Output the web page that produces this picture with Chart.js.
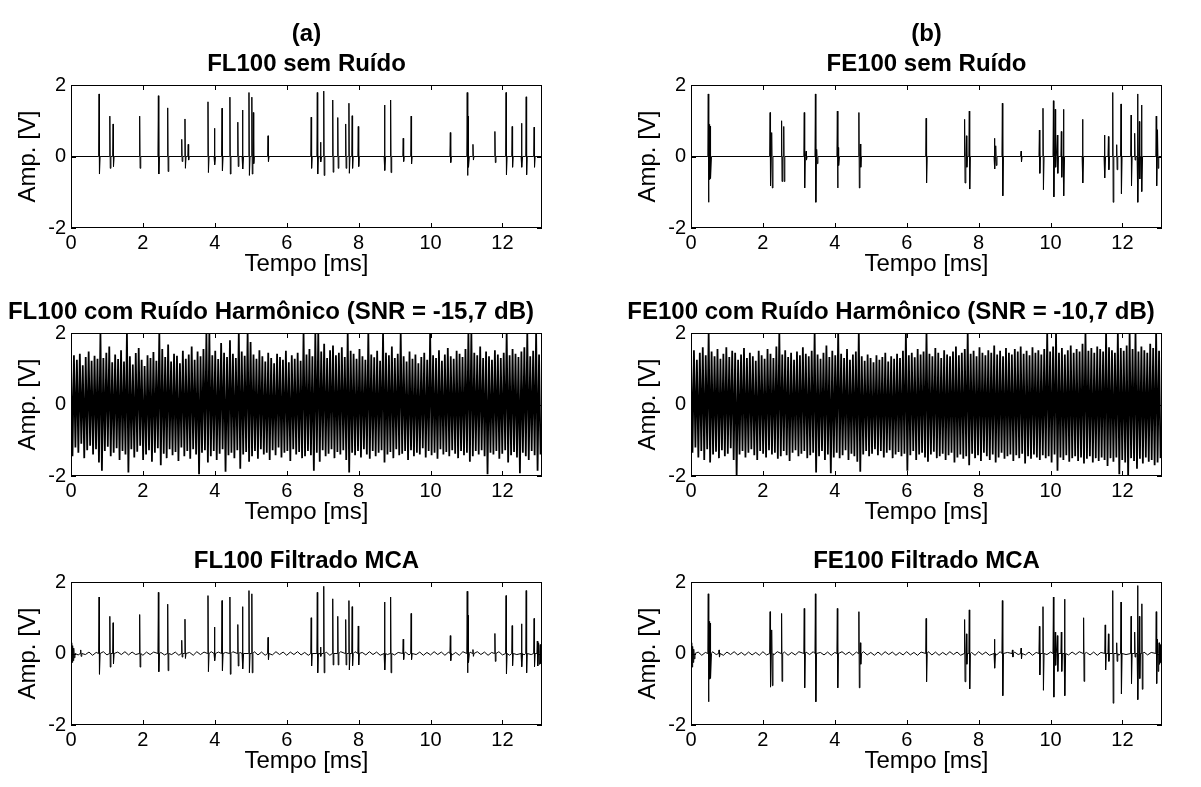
<!DOCTYPE html>
<html>
<head>
<meta charset="utf-8">
<script src="https://cdn.jsdelivr.net/npm/chart.js@4"></script>
<style>
  body { margin: 0; background: #fff; }
  #wrap { position: relative; width: 1201px; height: 787px; overflow: hidden; background: #fff; }
  canvas { position: absolute; }
</style>
</head>
<body>
<div id="wrap">
  <canvas id="c1" width="600" height="290" style="left:0;top:0"></canvas>
  <canvas id="c2" width="581" height="290" style="left:620px;top:0"></canvas>
  <canvas id="c3" width="600" height="290" style="left:0;top:248px"></canvas>
  <canvas id="c4" width="581" height="290" style="left:620px;top:248px"></canvas>
  <canvas id="c5" width="600" height="290" style="left:0;top:497px"></canvas>
  <canvas id="c6" width="581" height="290" style="left:620px;top:497px"></canvas>
</div>
<script>
// x axis
var tMax = 13.1;
var xTicks = [0, 2, 4, 6, 8, 10, 12];
var yTicks = [-2, 0, 2];

// FL100 clean: spike time [ms], positive peak, negative peak [V]
var fl100Times = [0.78, 1.08, 1.17, 1.91, 2.43, 2.69, 3.08, 3.17, 3.26, 3.81, 3.99, 4.20, 4.42, 4.64, 4.77, 4.95, 5.03, 5.07, 5.48, 6.68, 6.85, 6.94, 7.03, 7.28, 7.42, 7.64, 7.73, 7.82, 7.99, 8.72, 8.89, 9.24, 9.46, 10.55, 11.02, 11.05, 11.18, 11.79, 12.10, 12.27, 12.53, 12.66, 12.88];
var fl100Up = [1.75, 1.13, 0.91, 1.13, 1.70, 1.36, 0.48, 1.05, 0.34, 1.53, 0.79, 1.35, 1.66, 0.96, 1.30, 1.79, 1.66, 1.23, 0.58, 1.10, 1.79, 0.40, 1.83, 1.58, 1.09, 0.91, 1.49, 1.14, 0.84, 1.44, 1.58, 0.51, 1.13, 0.67, 1.79, 1.13, 0.34, 0.70, 1.79, 0.84, 0.93, 1.67, 0.82];
var fl100Down = [-0.49, -0.33, -0.28, -0.33, -0.49, -0.42, -0.14, -0.33, -0.10, -0.45, -0.23, -0.40, -0.49, -0.28, -0.35, -0.53, -0.49, -0.20, -0.14, -0.33, -0.49, -0.15, -0.53, -0.44, -0.33, -0.33, -0.47, -0.33, -0.28, -0.39, -0.45, -0.14, -0.21, -0.17, -0.53, -0.30, -0.10, -0.17, -0.51, -0.30, -0.30, -0.51, -0.30];

// FE100 clean
var fe100Times = [0.48, 0.50, 0.52, 0.54, 2.20, 2.25, 2.52, 2.58, 3.15, 3.20, 3.46, 3.50, 4.07, 4.10, 4.67, 4.71, 6.54, 7.61, 7.66, 7.74, 8.44, 8.48, 8.66, 9.18, 9.69, 9.79, 10.08, 10.13, 10.19, 10.30, 10.36, 10.89, 11.50, 11.61, 11.73, 11.84, 11.96, 12.24, 12.34, 12.42, 12.47, 12.53, 12.94, 12.98];
var fe100Up = [1.75, 0.95, 0.90, 0.85, 1.23, 0.67, 1.00, 0.84, 1.23, 0.15, 1.75, 0.20, 1.27, 0.25, 1.23, 0.35, 1.07, 1.04, 0.58, 1.27, 0.51, 0.30, 1.49, 0.15, 0.74, 1.35, 1.56, 1.32, 0.60, 0.70, 1.32, 1.04, 0.60, 0.56, 1.79, 0.33, 1.47, 1.16, 0.65, 1.75, 0.98, 1.44, 1.13, 0.75];
var fe100Down = [-1.28, -0.65, -0.62, -0.60, -0.82, -0.88, -0.70, -0.70, -0.88, -0.10, -1.28, -0.20, -0.88, -0.25, -0.88, -0.30, -0.74, -0.74, -0.30, -0.91, -0.35, -0.25, -1.10, -0.15, -0.47, -0.93, -1.13, -0.30, -0.47, -0.58, -1.10, -0.74, -0.60, -0.37, -1.28, -0.37, -1.04, -0.82, -0.10, -1.28, -0.63, -0.98, -0.82, -0.33];

// harmonic noise case: successive maxima / minima, 160 half-cycles over 13.1 ms
var fl100NoisyHi = [
  1.15, 1.38, 1.25, 1.42, 1.10, 1.33, 1.48, 1.22, 1.36, 1.28, 2.00, 1.30, 1.45, 1.62, 1.18, 1.40, 1.27, 1.52, 1.20, 2.00,
  1.35, 1.12, 1.44, 1.58, 1.25, 1.08, 1.38, 1.30, 1.47, 1.22, 2.00, 1.55, 1.33, 1.68, 1.20, 1.42, 1.36, 1.15, 1.50, 1.28,
  1.40, 1.62, 1.25, 1.48, 1.35, 1.55, 2.00, 2.00, 1.38, 1.50, 1.27, 1.72, 1.45, 1.33, 1.80, 1.42, 1.30, 2.00, 1.48, 1.36,
  2.00, 1.75, 1.40, 1.28, 1.52, 1.35, 1.20, 1.45, 1.30, 1.15, 1.42, 1.33, 1.25, 1.50, 1.18, 1.38, 1.28, 1.45, 1.22, 2.00,
  1.40, 1.55, 1.35, 2.00, 2.00, 1.48, 1.70, 1.30, 1.52, 1.65, 1.38, 1.45, 1.60, 1.33, 2.00, 1.50, 1.42, 1.28, 1.55, 1.35,
  1.25, 2.00, 1.40, 1.32, 1.50, 1.22, 2.00, 1.45, 1.38, 1.62, 1.30, 1.42, 2.00, 1.35, 1.20, 1.48, 1.28, 1.40, 1.15, 1.33,
  1.45, 1.25, 2.00, 1.38, 1.30, 1.52, 1.22, 1.40, 1.58, 1.35, 1.28, 1.50, 1.42, 1.33, 1.55, 2.00, 2.00, 1.45, 1.38, 1.62,
  1.30, 1.48, 1.35, 1.25, 1.52, 1.40, 1.30, 1.45, 2.00, 1.38, 1.55, 1.42, 1.33, 1.48, 1.60, 2.00, 1.35, 1.50, 2.00, 1.40
];
var fl100NoisyLo = [
  -1.45, -1.20, -1.35, -1.10, -1.50, -1.28, -1.15, -1.40, -1.25, -1.62, -1.85, -1.30, -1.18, -1.45, -1.35, -1.22, -1.55, -1.30, -1.40, -1.90,
  -1.25, -1.48, -1.32, -1.15, -1.55, -1.40, -1.28, -1.60, -1.35, -1.22, -1.70, -1.38, -1.50, -1.25, -1.42, -1.33, -1.58, -1.20, -1.45, -1.30,
  -1.52, -1.25, -1.40, -1.95, -1.35, -1.28, -1.62, -1.45, -1.30, -1.55, -1.38, -1.25, -1.88, -1.42, -1.35, -1.50, -1.28, -1.80, -1.40, -1.33,
  -1.60, -1.45, -1.30, -1.52, -1.25, -1.40, -1.35, -1.55, -1.28, -1.42, -1.20, -1.48, -1.35, -1.30, -1.58, -1.25, -1.40, -1.33, -1.50, -1.45,
  -1.30, -1.42, -1.85, -1.35, -1.60, -1.28, -1.45, -1.38, -1.25, -1.50, -1.33, -1.40, -1.28, -1.55, -1.90, -1.35, -1.42, -1.30, -1.48, -1.25,
  -1.40, -1.52, -1.30, -1.45, -1.35, -1.28, -1.62, -1.40, -1.33, -1.50, -1.25, -1.42, -1.38, -1.30, -1.55, -1.28, -1.45, -1.35, -1.40, -1.22,
  -1.48, -1.30, -1.42, -1.35, -1.52, -1.25, -1.40, -1.33, -1.45, -1.28, -1.38, -1.50, -1.30, -1.42, -1.35, -1.60, -1.45, -1.30, -1.40, -1.28,
  -1.45, -1.95, -1.35, -1.40, -1.30, -1.52, -1.38, -1.28, -1.62, -1.42, -1.33, -1.48, -1.92, -1.35, -1.45, -1.55, -1.30, -1.42, -1.85, -1.40
];
var fe100NoisyHi = [
  1.30, 1.52, 1.25, 1.45, 1.60, 1.38, 2.00, 1.48, 1.35, 1.55, 1.28, 1.42, 1.60, 1.33, 1.50, 1.45, 1.25, 1.40, 1.58, 1.30,
  1.45, 1.35, 1.22, 1.50, 1.38, 1.28, 1.55, 1.42, 1.30, 1.62, 2.00, 1.40, 1.52, 1.33, 1.45, 1.25, 1.48, 1.38, 1.60, 1.42,
  1.35, 1.50, 2.00, 1.40, 1.28, 1.45, 1.65, 1.33, 1.50, 1.38, 2.00, 1.42, 1.30, 1.55, 1.25, 1.40, 1.48, 2.00, 1.35, 1.22,
  1.40, 1.30, 1.18, 1.38, 1.25, 1.33, 1.45, 1.20, 1.35, 1.28, 1.42, 1.30, 1.50, 2.00, 1.38, 1.45, 1.32, 1.55, 1.40, 1.48,
  2.00, 1.42, 1.35, 1.58, 1.45, 1.30, 1.52, 1.40, 1.35, 1.48, 1.62, 1.38, 1.45, 1.55, 2.00, 1.42, 1.50, 1.35, 1.60, 1.45,
  1.38, 1.52, 1.45, 1.65, 1.40, 1.50, 1.35, 1.58, 1.45, 1.40, 1.55, 1.48, 1.62, 1.42, 1.50, 1.38, 1.60, 1.45, 1.52, 1.40,
  1.55, 2.00, 1.48, 1.62, 2.00, 1.45, 1.58, 1.40, 1.52, 1.65, 1.45, 1.55, 1.48, 1.70, 2.00, 1.50, 1.58, 1.45, 1.62, 1.55,
  1.48, 2.00, 1.60, 1.52, 1.45, 2.00, 1.58, 1.50, 1.65, 2.00, 1.55, 2.00, 1.48, 1.62, 1.52, 1.45, 1.70, 1.58, 2.00, 1.50
];
var fe100NoisyLo = [
  -1.35, -1.20, -1.48, -1.30, -1.55, -1.25, -1.62, -1.40, -1.32, -1.50, -1.28, -1.45, -1.38, -1.22, -1.55, -2.00, -1.40, -1.30, -1.48, -1.35,
  -1.25, -1.42, -1.55, -1.30, -1.38, -1.48, -1.28, -1.40, -1.35, -1.52, -1.45, -1.30, -1.42, -1.58, -1.35, -1.28, -1.45, -1.38, -1.30, -1.50,
  -1.42, -1.35, -1.90, -1.45, -1.30, -1.55, -1.40, -1.92, -1.48, -1.35, -1.50, -1.42, -1.28, -1.55, -1.38, -1.45, -1.60, -1.88, -1.40, -1.30,
  -1.45, -1.38, -1.25, -1.42, -1.30, -1.48, -1.35, -1.28, -1.50, -1.40, -1.33, -1.45, -1.38, -1.85, -1.42, -1.30, -1.55, -1.40, -1.35, -1.48,
  -1.60, -1.40, -1.32, -1.50, -1.45, -1.38, -1.55, -1.42, -1.35, -1.62, -1.48, -1.40, -1.52, -1.45, -1.70, -1.38, -1.50, -1.42, -1.58, -1.35,
  -1.45, -1.55, -1.40, -1.62, -1.48, -1.35, -1.52, -1.45, -1.40, -1.58, -1.42, -1.50, -1.38, -1.65, -1.45, -1.52, -1.40, -1.48, -1.55, -1.42,
  -1.50, -1.45, -1.62, -1.40, -1.85, -1.48, -1.55, -1.42, -1.60, -1.50, -1.45, -1.58, -1.48, -1.65, -1.52, -1.45, -1.62, -1.50, -1.58, -1.48,
  -1.55, -1.72, -1.50, -1.60, -1.48, -1.95, -1.55, -1.62, -2.00, -1.50, -1.58, -1.80, -1.52, -1.65, -1.48, -1.60, -1.55, -1.70, -1.62, -1.50
];

// MCA filtered: spikes plus residual ripple (one value every 0.1 ms)
var fl100FiltTimes = [0.02, 0.05, 0.08, 0.27, 0.78, 1.08, 1.17, 1.91, 2.43, 2.69, 3.08, 3.17, 3.81, 3.99, 4.20, 4.42, 4.64, 4.77, 4.95, 5.03, 5.48, 6.68, 6.85, 6.94, 7.03, 7.28, 7.42, 7.64, 7.73, 7.82, 7.99, 8.72, 8.89, 9.24, 9.46, 10.55, 11.02, 11.05, 11.18, 11.79, 12.10, 12.27, 12.53, 12.66, 12.88, 12.97, 13.01, 13.05];
var fl100FiltUp = [0.30, 0.22, 0.15, 0.10, 1.58, 1.04, 0.86, 1.09, 1.71, 1.38, 0.37, 0.96, 1.62, 0.74, 1.48, 1.58, 0.81, 1.31, 1.76, 1.67, 0.45, 1.00, 1.71, 0.18, 1.88, 1.53, 1.04, 0.95, 1.48, 1.31, 0.77, 1.44, 1.58, 0.40, 1.12, 0.50, 1.74, 1.07, 0.11, 0.56, 1.62, 0.78, 0.83, 1.76, 0.98, 0.35, 0.30, 0.25];
var fl100FiltDown = [-0.25, -0.20, -0.12, -0.08, -0.58, -0.38, -0.29, -0.38, -0.51, -0.48, -0.10, -0.14, -0.51, -0.20, -0.48, -0.58, -0.35, -0.43, -0.54, -0.54, -0.17, -0.35, -0.54, -0.08, -0.54, -0.32, -0.32, -0.32, -0.46, -0.34, -0.32, -0.46, -0.54, -0.17, -0.17, -0.20, -0.54, -0.25, -0.08, -0.22, -0.57, -0.34, -0.37, -0.54, -0.37, -0.35, -0.30, -0.28];
var fl100Ripple = [
  0.00, 0.03, -0.04, 0.05, -0.03, 0.04, -0.05, 0.03, -0.04, 0.05,
  -0.04, 0.03, -0.05, 0.04, -0.03, 0.05, -0.04, 0.04, -0.03, 0.05,
  -0.05, 0.04, -0.03, 0.04, -0.05, 0.03, -0.04, 0.05, -0.03, 0.04,
  -0.05, 0.04, -0.04, 0.03, -0.05, 0.05, -0.03, 0.04, -0.04, 0.05,
  -0.03, 0.04, -0.05, 0.03, -0.04, 0.05, -0.04, 0.03, -0.05, 0.04,
  -0.03, 0.05, -0.04, 0.04, -0.05, 0.03, -0.04, 0.05, -0.03, 0.04,
  -0.05, 0.04, -0.03, 0.05, -0.04, 0.03, -0.05, 0.04, -0.04, 0.05,
  -0.03, 0.04, -0.05, 0.03, -0.04, 0.05, -0.04, 0.04, -0.03, 0.05,
  -0.05, 0.03, -0.04, 0.05, -0.03, 0.04, -0.05, 0.04, -0.03, 0.05,
  -0.04, 0.03, -0.05, 0.04, -0.04, 0.05, -0.03, 0.04, -0.05, 0.03,
  -0.04, 0.05, -0.03, 0.04, -0.05, 0.04, -0.04, 0.03, -0.05, 0.05,
  -0.03, 0.04, -0.04, 0.05, -0.03, 0.04, -0.05, 0.03, -0.04, 0.05,
  -0.04, 0.03, -0.05, 0.04, -0.03, 0.05, -0.04, 0.04, -0.03, 0.05,
  -0.04, 0.00
];

var fe100FiltTimes = [0.02, 0.05, 0.08, 0.48, 0.50, 0.52, 0.54, 0.78, 2.20, 2.25, 2.52, 3.15, 3.46, 4.07, 4.67, 4.71, 6.54, 7.61, 7.66, 7.74, 8.44, 8.66, 8.94, 9.18, 9.69, 9.79, 10.08, 10.13, 10.19, 10.30, 10.39, 10.92, 11.52, 11.61, 11.73, 11.84, 11.96, 12.24, 12.34, 12.42, 12.47, 12.54, 12.94, 12.98, 13.02, 13.06];
var fe100FiltUp = [0.30, 0.20, 0.12, 1.67, 0.93, 0.90, 0.85, 0.10, 1.17, 0.66, 1.12, 1.26, 1.67, 1.26, 1.17, 0.30, 0.98, 0.95, 0.55, 1.22, 0.40, 1.48, 0.10, 0.15, 0.76, 1.31, 1.58, 0.60, 0.50, 0.60, 1.52, 1.00, 0.80, 0.55, 1.76, 0.30, 1.44, 1.04, 0.60, 1.90, 1.04, 1.39, 1.17, 0.40, 0.30, 0.25];
var fe100FiltDown = [-0.38, -0.25, -0.15, -1.35, -0.72, -0.70, -0.68, -0.10, -0.94, -0.90, -0.78, -0.96, -1.35, -0.96, -0.96, -0.30, -0.79, -0.79, -0.30, -0.99, -0.41, -1.18, -0.10, -0.15, -0.60, -1.03, -1.22, -0.33, -0.50, -0.50, -1.18, -0.78, -0.46, -0.22, -1.39, -0.22, -1.13, -0.84, -0.10, -1.29, -0.70, -1.00, -0.84, -0.50, -0.30, -0.25];
var fe100Ripple = [
  0.00, -0.03, 0.04, -0.05, 0.03, -0.04, 0.05, -0.03, 0.04, -0.05,
  0.04, -0.03, 0.05, -0.04, 0.03, -0.05, 0.04, -0.04, 0.03, -0.05,
  0.05, -0.04, 0.03, -0.04, 0.05, -0.03, 0.04, -0.05, 0.03, -0.04,
  0.05, -0.04, 0.04, -0.03, 0.05, -0.05, 0.03, -0.04, 0.04, -0.05,
  0.03, -0.04, 0.05, -0.03, 0.04, -0.05, 0.04, -0.03, 0.05, -0.04,
  0.03, -0.05, 0.04, -0.04, 0.05, -0.03, 0.04, -0.05, 0.03, -0.04,
  0.05, -0.04, 0.03, -0.05, 0.04, -0.03, 0.05, -0.04, 0.04, -0.05,
  0.03, -0.04, 0.05, -0.03, 0.04, -0.05, 0.04, -0.04, 0.03, -0.05,
  0.05, -0.03, 0.04, -0.05, 0.03, -0.04, 0.05, -0.04, 0.03, -0.05,
  0.04, -0.03, 0.05, -0.04, 0.04, -0.05, 0.03, -0.04, 0.05, -0.03,
  0.04, -0.05, 0.03, -0.04, 0.05, -0.04, 0.04, -0.03, 0.05, -0.05,
  0.03, -0.04, 0.04, -0.05, 0.03, -0.04, 0.05, -0.03, 0.04, -0.05,
  0.04, -0.03, 0.05, -0.04, 0.03, -0.05, 0.04, -0.04, 0.03, -0.05,
  0.04, 0.00
];

Chart.defaults.font.family = "'Liberation Sans', Arial, sans-serif";
Chart.defaults.color = "#000";

function spikePoints(times, up, down) {
  var pts = [];
  times.forEach(function (t, i) {
    pts.push({ x: t - 0.012, y: 0 }, { x: t, y: up[i] }, { x: t + 0.012, y: down[i] }, { x: t + 0.03, y: 0 });
  });
  return pts;
}

function cleanSignal(times, up, down) {
  var pts = [{ x: 0, y: 0 }].concat(spikePoints(times, up, down), [{ x: tMax, y: 0 }]);
  return pts.sort(function (a, b) { return a.x - b.x; });
}

function filteredSignal(times, up, down, ripple) {
  var base = ripple.map(function (v, i) { return { x: i * 0.1, y: v }; }).filter(function (p) {
    return !times.some(function (t) { return Math.abs(p.x - t) < 0.05; });
  });
  return base.concat(spikePoints(times, up, down)).sort(function (a, b) { return a.x - b.x; });
}

function noisySignal(hi, lo) {
  var dt = tMax / hi.length;
  var pts = [];
  hi.forEach(function (h, i) {
    pts.push({ x: i * dt, y: h }, { x: i * dt + dt / 2, y: lo[i] });
  });
  return pts;
}

// MATLAB style box with inward ticks
var boxPlugin = {
  id: "matlabBox",
  afterDraw: function (chart) {
    var ctx = chart.ctx, a = chart.chartArea, x = chart.scales.x, y = chart.scales.y;
    ctx.save();
    ctx.strokeStyle = "#000";
    ctx.lineWidth = 1;
    ctx.strokeRect(a.left + 0.5, a.top + 0.5, a.right - a.left - 1, a.bottom - a.top - 1);
    ctx.beginPath();
    x.ticks.forEach(function (t) {
      var px = Math.round(x.getPixelForValue(t.value)) + 0.5;
      ctx.moveTo(px, a.top); ctx.lineTo(px, a.top + 5);
      ctx.moveTo(px, a.bottom); ctx.lineTo(px, a.bottom - 5);
    });
    y.ticks.forEach(function (t) {
      var py = Math.round(y.getPixelForValue(t.value)) + 0.5;
      ctx.moveTo(a.left, py); ctx.lineTo(a.left + 5, py);
      ctx.moveTo(a.right, py); ctx.lineTo(a.right - 5, py);
    });
    ctx.stroke();
    ctx.restore();
  }
};

function makeChart(id, title, fullTitle, rightPad, points, lineWidth) {
  var twoLines = Array.isArray(title);
  return new Chart(document.getElementById(id), {
    type: "line",
    data: {
      datasets: [{
        data: points,
        borderColor: "#000",
        borderWidth: lineWidth,
        pointRadius: 0,
        tension: 0
      }]
    },
    options: {
      responsive: false,
      animation: false,
      events: [],
      layout: { padding: { left: 0, right: rightPad, top: 0, bottom: 10 } },
      plugins: {
        legend: { display: false },
        tooltip: { enabled: false },
        title: {
          display: true,
          text: title,
          fullSize: fullTitle,
          color: "#000",
          font: { size: 24, weight: "bold", lineHeight: 30 / 24 },
          padding: { top: twoLines ? 19 : 49, bottom: 6 }
        }
      },
      scales: {
        x: {
          type: "linear",
          min: 0,
          max: tMax,
          afterFit: function (s) { s.height = 52; },
          afterBuildTicks: function (s) { s.ticks = xTicks.map(function (v) { return { value: v }; }); },
          ticks: { padding: 3, font: { size: 20 }, color: "#000", maxRotation: 0, autoSkip: false },
          grid: { display: false, drawTicks: false },
          border: { display: false },
          title: { display: true, text: "Tempo [ms]", font: { size: 24 }, color: "#000", padding: { top: 0, bottom: 1 } }
        },
        y: {
          min: -2,
          max: 2,
          afterFit: function (s) { s.width = 71; },
          afterBuildTicks: function (s) { s.ticks = yTicks.map(function (v) { return { value: v }; }); },
          ticks: { padding: 5, font: { size: 20 }, color: "#000" },
          grid: { display: false, drawTicks: false },
          border: { display: false },
          title: { display: true, text: "Amp. [V]", font: { size: 24 }, color: "#000", padding: { top: 14, bottom: 0 } }
        }
      }
    },
    plugins: [boxPlugin]
  });
}

makeChart("c1", ["(a)", "FL100 sem Ruído"], false, 58, cleanSignal(fl100Times, fl100Up, fl100Down), 1);
makeChart("c2", ["(b)", "FE100 sem Ruído"], false, 39, cleanSignal(fe100Times, fe100Up, fe100Down), 1);
makeChart("c3", "FL100 com Ruído Harmônico (SNR = -15,7 dB)", true, 58, noisySignal(fl100NoisyHi, fl100NoisyLo), 1.8);
makeChart("c4", "FE100 com Ruído Harmônico (SNR = -10,7 dB)", true, 39, noisySignal(fe100NoisyHi, fe100NoisyLo), 1.8);
makeChart("c5", "FL100 Filtrado MCA", false, 58, filteredSignal(fl100FiltTimes, fl100FiltUp, fl100FiltDown, fl100Ripple), 1);
makeChart("c6", "FE100 Filtrado MCA", false, 39, filteredSignal(fe100FiltTimes, fe100FiltUp, fe100FiltDown, fe100Ripple), 1);
</script>
</body>
</html>
